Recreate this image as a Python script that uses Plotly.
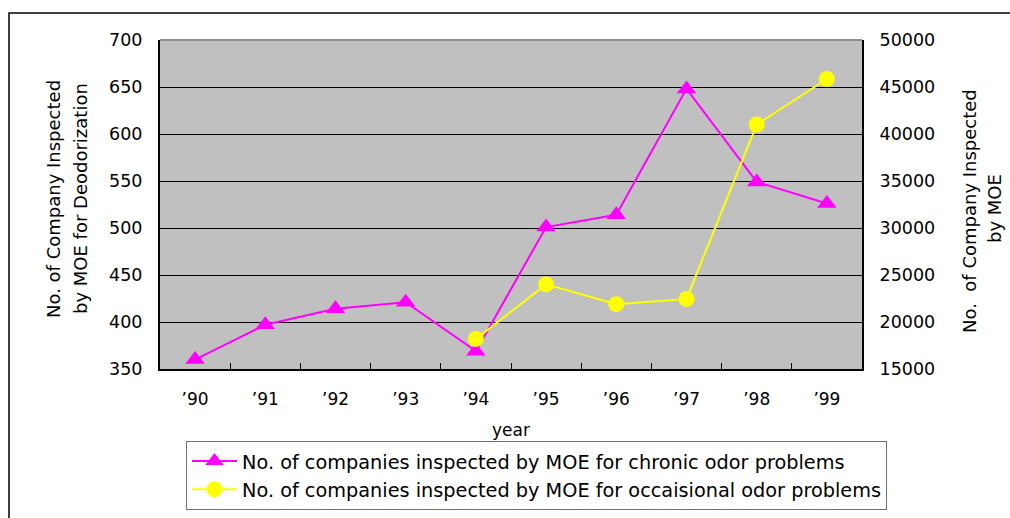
import plotly.graph_objects as go

years = ["’90", "’91", "’92", "’93", "’94", "’95", "’96", "’97", "’98", "’99"]
chronic = [360, 397, 414, 421, 369, 501, 514, 648, 549, 526]
occasional = [None, None, None, None, 18200, 24000, 21900, 22450, 41000, 45850]

name_chronic = "No. of companies inspected by MOE for chronic odor problems"
name_occ = "No. of companies inspected by MOE for occaisional odor problems"
left_title = ["No. of Company Inspected", "by MOE for Deodorization"]
right_title = ["No.  of Company Inspected", "by MOE"]
x_title = "year"

FONT = "DejaVu Sans"

fig = go.Figure()
fig.add_trace(go.Scatter(
    x=years, y=chronic, name=name_chronic, mode="lines+markers",
    line=dict(color="#FF00FF", width=2),
    marker=dict(symbol="triangle-up", size=17, color="#FF00FF"),
    yaxis="y", cliponaxis=False,
))
fig.add_trace(go.Scatter(
    x=years, y=occasional, name=name_occ, mode="lines+markers",
    line=dict(color="#FFFF00", width=2),
    marker=dict(symbol="circle", size=16, color="#FFFF00"),
    yaxis="y2", connectgaps=False, cliponaxis=False,
))

L, R, T, B = 160, 862, 40, 369
W, H = 1010, 518
pw, ph = R - L, B - T

def px(x):
    return (x - L) / pw

def py(y):
    return (B - y) / ph

annotations = [
    dict(text=left_title[0], x=px(53), y=py(199), textangle=-90),
    dict(text=left_title[1], x=px(80), y=py(199), textangle=-90),
    dict(text=right_title[0], x=px(969), y=py(211), textangle=-90),
    dict(text=right_title[1], x=px(995), y=py(209), textangle=-90),
    dict(text=x_title, x=0.5, y=py(430), textangle=0),
]
for a in annotations:
    a.update(xref="paper", yref="paper", showarrow=False,
             xanchor="center", yanchor="middle",
             font=dict(family=FONT, size=18, color="black"))
annotations[-1]["font"]["size"] = 17

fig.update_layout(
    width=W, height=H, autosize=False,
    margin=dict(l=L, r=W - R, t=T, b=H - B, pad=0, autoexpand=False),
    paper_bgcolor="white",
    plot_bgcolor="#C0C0C0",
    font=dict(family=FONT, size=17, color="black"),
    showlegend=True,
    legend=dict(
        x=px(186), y=py(441), xanchor="left", yanchor="top",
        orientation="v",
        bordercolor="#707070", borderwidth=1, bgcolor="white",
        font=dict(family=FONT, size=19.3, color="black"),
        itemwidth=45, tracegroupgap=0,
    ),
    xaxis=dict(
        type="category", range=[-0.5, 9.5],
        tickson="boundaries", ticks="inside", ticklen=6, tickcolor="black",
        showline=True, linecolor="black", linewidth=2,
        showgrid=False, ticklabelstandoff=14, automargin=False,
        tickfont=dict(family=FONT, size=17),
    ),
    yaxis=dict(
        range=[350, 700], dtick=50, tick0=350,
        ticks="inside", ticklen=6, tickcolor="black",
        showline=True, linecolor="black", linewidth=2,
        showgrid=True, gridcolor="black", gridwidth=1,
        zeroline=False, ticklabelstandoff=12, automargin=False,
        tickfont=dict(family=FONT, size=17.5),
    ),
    yaxis2=dict(
        range=[15000, 50000], dtick=5000, tick0=15000, tickformat="d",
        overlaying="y", side="right",
        ticks="inside", ticklen=6, tickcolor="black",
        showline=True, linecolor="black", linewidth=2,
        showgrid=False, zeroline=False, ticklabelstandoff=12, automargin=False,
        tickfont=dict(family=FONT, size=17.5),
    ),
    annotations=annotations,
    shapes=[
        dict(type="line", xref="paper", yref="paper", x0=0, x1=1, y0=1, y1=1,
             line=dict(color="#909090", width=2), layer="above"),
        dict(type="rect", xref="paper", yref="paper",
             x0=px(9), x1=px(1030), y0=py(540), y1=py(13),
             line=dict(color="black", width=1.5), layer="below"),
    ],
)

fig.write_html(
    "out.html",
    config={"displayModeBar": False},
    post_script="document.body.style.margin='0';document.body.style.padding='0';document.body.style.overflow='hidden';",
)
